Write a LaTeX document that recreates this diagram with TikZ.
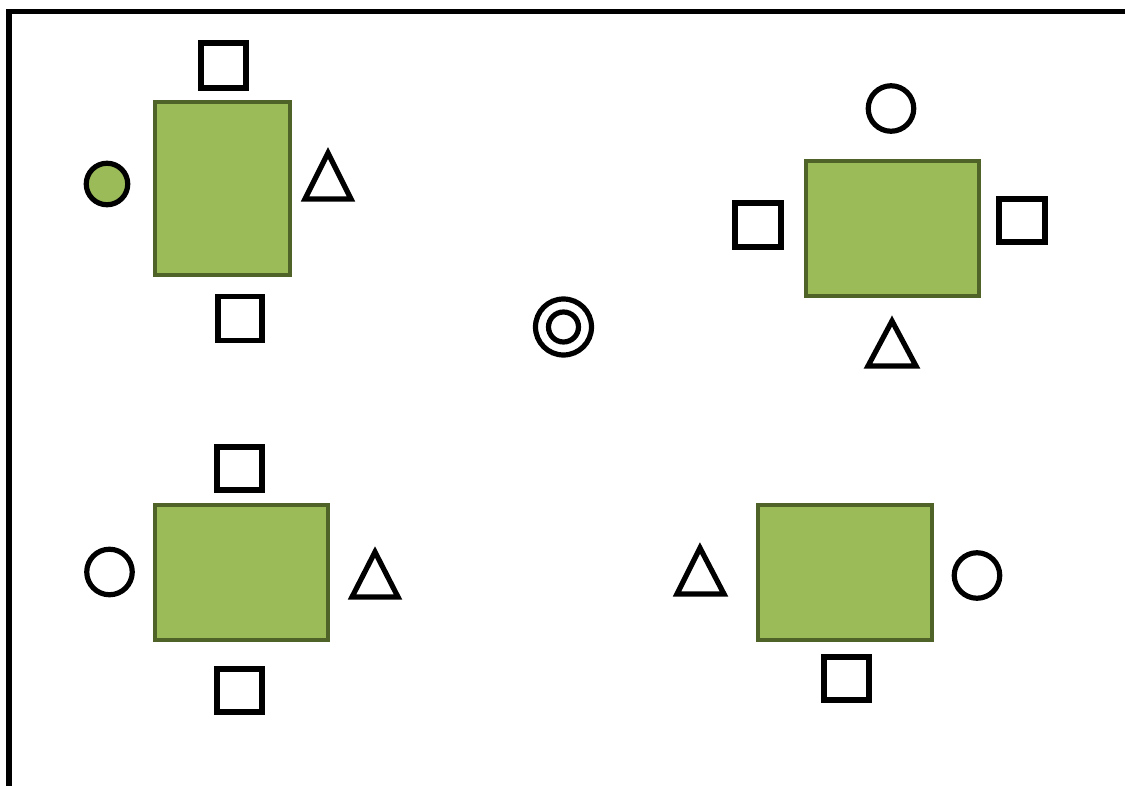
\documentclass[tikz,border=0pt]{standalone}
\usetikzlibrary{calc}
\definecolor{tablefill}{HTML}{9BBB59}
\definecolor{tableedge}{HTML}{4F6228}
\begin{document}
\begin{tikzpicture}[x=1pt,y=-1pt,
  tablebox/.style={draw=tableedge,fill=tablefill,line width=4.5pt,rectangle,inner sep=0pt,outer sep=0pt},
  sqbox/.style={draw=black,fill=white,line width=5.2pt,rectangle,inner sep=0pt,outer sep=0pt,minimum size=45pt},
  rnd/.style={draw=black,fill=white,line width=5.2pt,circle,inner sep=0pt,outer sep=0pt,minimum size=45.5pt},
  tri/.style={draw=black,fill=white,line width=5.2pt,line join=miter},
  frame/.style={draw=black,line width=5.2pt,line join=miter}]
\useasboundingbox (0,0) rectangle (1125,786);
\fill[white] (0,0) rectangle (1125,786);
% frame
\coordinate (fb) at (9,790);
\coordinate (fc) at (9,11.5);
\coordinate (fr) at (1130,11.5);
\draw[frame] (fb) -- (fc) -- (fr);

% top-left group
\node[tablebox,minimum width=135pt,minimum height=173pt] (t1) at (222.5,188.5) {};
\node[sqbox] (t1n) at (223.5,65.5) {};
\node[sqbox,minimum size=44pt] (t1s) at (240,318.5) {};
\node[rnd,fill=tablefill,minimum size=41.5pt] (t1w) at (107,184) {};
\draw[tri] (328,153) -- (351,199) -- (305,199) -- cycle;

% centre mark
\node[draw=black,line width=5.2pt,circle,inner sep=0pt,minimum size=56pt] (cout) at (563.5,327) {};
\node[draw=black,line width=5.2pt,circle,inner sep=0pt,minimum size=30pt] (cin) at (563.5,327) {};

% top-right group
\node[tablebox,minimum width=173pt,minimum height=135pt] (t2) at (892.5,228.5) {};
\node[rnd] (t2n) at (891,108.5) {};
\node[sqbox,minimum width=46pt,minimum height=44pt] (t2w) at (758,225) {};
\node[sqbox,minimum width=46pt,minimum height=43pt] (t2e) at (1022,220.5) {};
\draw[tri] (892,321) -- (916,366) -- (868,366) -- cycle;

% bottom-left group
\node[tablebox,minimum width=173pt,minimum height=135pt] (t3) at (241.5,572.5) {};
\node[sqbox,minimum width=45pt,minimum height=43pt] (t3n) at (239.5,468.5) {};
\node[sqbox,minimum width=45pt,minimum height=43pt] (t3s) at (239.5,690.5) {};
\node[rnd] (t3w) at (109.5,572) {};
\draw[tri] (375,552) -- (398,597) -- (352,597) -- cycle;

% bottom-right group
\node[tablebox,minimum width=174pt,minimum height=135pt] (t4) at (845,572.5) {};
\node[sqbox,minimum width=45pt,minimum height=43pt] (t4s) at (846.5,678.5) {};
\node[rnd] (t4e) at (977,575.5) {};
\draw[tri] (700,548) -- (724,594) -- (677,594) -- cycle;
\end{tikzpicture}
\end{document}
